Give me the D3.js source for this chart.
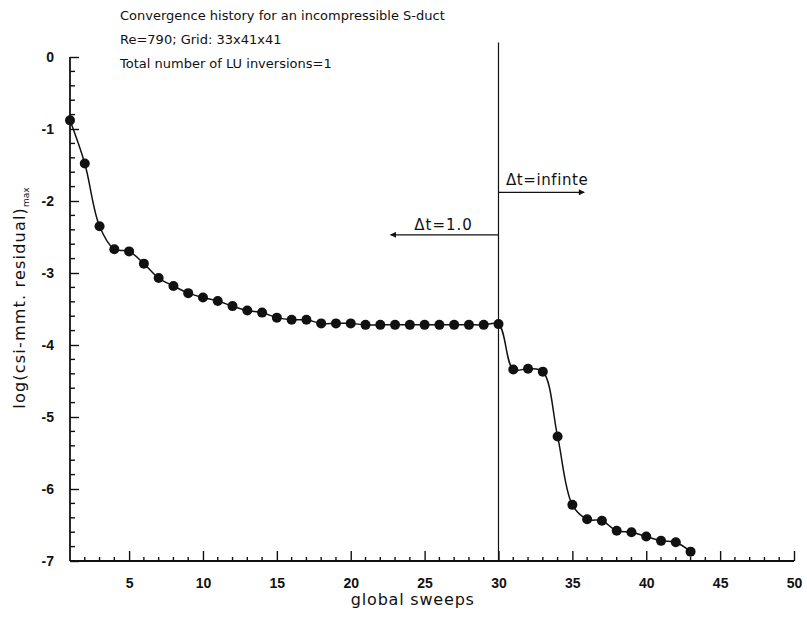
<!DOCTYPE html>
<html>
<head>
<meta charset="utf-8">
<script src="https://cdn.jsdelivr.net/npm/d3@7"></script>
<style>
  body { margin: 0; background: #fff; }
  svg { font-family: "DejaVu Sans", "Liberation Sans", Arial, sans-serif; }
</style>
</head>
<body>
<div class="svg-container"></div>
<script>
// data
var sweeps = [1, 2, 3, 4, 5, 6, 7, 8, 9, 10, 11, 12, 13, 14, 15, 16, 17, 18, 19, 20, 21, 22,
              23, 24, 25, 26, 27, 28, 29, 30, 31, 32, 33, 34, 35, 36, 37, 38, 39, 40, 41, 42, 43];
var residual = [-0.88, -1.48, -2.35, -2.67, -2.70, -2.87, -3.07, -3.18, -3.28, -3.34, -3.39,
                -3.46, -3.52, -3.55, -3.62, -3.65, -3.65, -3.70, -3.70, -3.70, -3.72, -3.72,
                -3.72, -3.72, -3.72, -3.72, -3.72, -3.72, -3.72, -3.71, -4.34, -4.33, -4.37,
                -5.27, -6.22, -6.42, -6.44, -6.58, -6.60, -6.66, -6.72, -6.74, -6.87];
var xTicks = [5, 10, 15, 20, 25, 30, 35, 40, 45, 50];
var yTicks = [0, -1, -2, -3, -4, -5, -6, -7];
var titleLines = ["Convergence history for an incompressible S-duct",
                  "Re=790; Grid: 33x41x41",
                  "Total number of LU inversions=1"];
var switchSweep = 30;

var W = 807, H = 621;
var margin = {top: 57, right: 13, bottom: 60, left: 70},
    width = 794 - margin.left,
    height = 561 - margin.top;

var data = [];
for (let i = 0; i < sweeps.length; i++) {
    data.push({sweep: sweeps[i], res: residual[i]});
}

var svg = d3.select(".svg-container").append("svg")
    .attr("width", W)
    .attr("height", H);

var g = svg.append("g")
    .attr("transform", "translate(" + margin.left + "," + margin.top + ")");

const x = d3.scaleLinear().domain([1, 50]).range([0, width]);
const y = d3.scaleLinear().domain([0, -7]).range([0, height]);

var ink = "#111";

// x axis with minor ticks pointing up
var xAxis = d3.axisBottom(x).tickValues(xTicks).tickSize(-10).tickPadding(17)
    .tickFormat(function(d) { return String(d); });
var gx = g.append("g").attr("transform", "translate(0," + height + ")").call(xAxis);
gx.append("g").selectAll("line")
    .data(d3.range(2, 50).filter(function(d) { return d % 5 !== 0; }))
    .enter().append("line")
    .attr("x1", function(d) { return x(d); })
    .attr("x2", function(d) { return x(d); })
    .attr("y1", 0).attr("y2", -4);

// y axis with minor ticks pointing right
var yAxis = d3.axisLeft(y).tickValues(yTicks).tickSize(-9).tickPadding(16)
    .tickFormat(function(d) { return String(d); });
var gy = g.append("g").call(yAxis);
var minorY = [];
for (let k = 0; k < 7; k++) {
    for (let m = 1; m < 5; m++) minorY.push(-(k + m * 0.2));
}
gy.append("g").selectAll("line")
    .data(minorY)
    .enter().append("line")
    .attr("x1", 0).attr("x2", 5)
    .attr("y1", function(d) { return y(d); })
    .attr("y2", function(d) { return y(d); });

[gx, gy].forEach(function(a) {
    a.select(".domain").attr("d", a === gx ? "M0,0H" + width : "M0,0V" + height);
    a.selectAll("line").attr("stroke", ink).attr("stroke-width", 1.4);
    a.select(".domain").attr("stroke", ink).attr("stroke-width", 1.8);
    a.selectAll("text").attr("fill", ink)
        .style("font-family", "'Liberation Sans', Arial, sans-serif")
        .style("font-size", "14px").style("font-weight", "bold");
});
gy.selectAll(".tick text").attr("dy", "0.35em");

// axis titles
g.append("text")
    .attr("x", x(24.2)).attr("y", height + 44)
    .attr("text-anchor", "middle")
    .attr("fill", ink)
    .style("font-size", "16px")
    .style("letter-spacing", "0.8px")
    .text("global sweeps");

var yl = svg.append("text")
    .attr("transform", "translate(25," + 298 + ") rotate(-90)")
    .attr("text-anchor", "middle")
    .attr("fill", ink)
    .style("font-size", "16px")
    .style("letter-spacing", "1.2px");
yl.append("tspan").text("log(csi-mmt. residual)");
yl.append("tspan").attr("dy", 4).style("font-size", "9px").style("letter-spacing", "0px").text("max");

// title block
svg.append("g").selectAll("text")
    .data(titleLines)
    .enter().append("text")
    .attr("x", 120)
    .attr("y", function(d, i) { return 20 + i * 24; })
    .attr("fill", ink)
    .style("font-size", "13px")
    .text(function(d) { return d; });

// switch line at sweep 30
g.append("line")
    .attr("x1", x(switchSweep)).attr("x2", x(switchSweep))
    .attr("y1", y(0.2)).attr("y2", height)
    .attr("stroke", ink).attr("stroke-width", 1.2);

svg.append("defs").append("marker")
    .attr("id", "arr")
    .attr("viewBox", "0 0 10 10")
    .attr("refX", 9).attr("refY", 5)
    .attr("markerWidth", 7).attr("markerHeight", 5)
    .attr("orient", "auto")
    .append("path").attr("d", "M0,0L10,5L0,10z").attr("fill", ink);

// dt = 1.0 arrow (left)
g.append("line")
    .attr("x1", x(switchSweep)).attr("x2", x(22.7))
    .attr("y1", y(-2.47)).attr("y2", y(-2.47))
    .attr("stroke", ink).attr("stroke-width", 1.2)
    .attr("marker-end", "url(#arr)");
g.append("text")
    .attr("x", x(24.3)).attr("y", y(-2.47) - 5)
    .attr("fill", ink).style("font-size", "15px")
    .style("letter-spacing", "1px")
    .text("\u0394t=1.0");

// dt = infinite arrow (right)
g.append("line")
    .attr("x1", x(switchSweep)).attr("x2", x(35.8))
    .attr("y1", y(-1.88)).attr("y2", y(-1.88))
    .attr("stroke", ink).attr("stroke-width", 1.2)
    .attr("marker-end", "url(#arr)");
g.append("text")
    .attr("x", x(30.5)).attr("y", y(-1.88) - 7)
    .attr("fill", ink).style("font-size", "15px")
    .style("letter-spacing", "0.6px")
    .text("\u0394t=infinte");

// convergence curve
const line = d3.line()
    .x(function(d) { return x(d.sweep); })
    .y(function(d) { return y(d.res); })
    .curve(d3.curveCatmullRom.alpha(0.5));

g.append("path")
    .datum(data)
    .attr("fill", "none")
    .attr("stroke", ink)
    .attr("stroke-width", 1.5)
    .attr("d", line);

g.append("g").selectAll("circle")
    .data(data)
    .enter().append("circle")
    .attr("cx", function(d) { return x(d.sweep); })
    .attr("cy", function(d) { return y(d.res); })
    .attr("r", 5)
    .attr("fill", ink);
</script>
</body>
</html>
